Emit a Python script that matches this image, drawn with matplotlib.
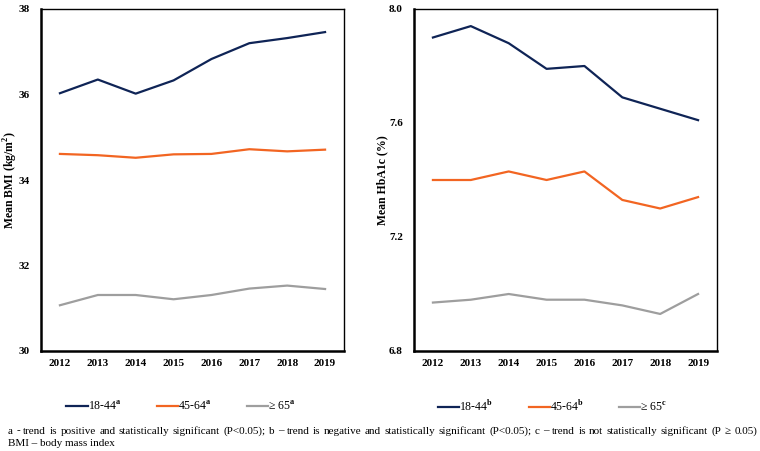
import matplotlib
matplotlib.use("Agg")
import matplotlib.pyplot as plt

years = ["2012", "2013", "2014", "2015", "2016", "2017", "2018", "2019"]
groups_bmi = ["18-44$^{\\mathbf{a}}$", "45-64$^{\\mathbf{a}}$", "≥ 65$^{\\mathbf{a}}$"]
groups_hba = ["18-44$^{\\mathbf{b}}$", "45-64$^{\\mathbf{b}}$", "≥ 65$^{\\mathbf{c}}$"]

bmi_18_44 = [36.03, 36.35, 36.02, 36.33, 36.83, 37.20, 37.32, 37.46]
bmi_45_64 = [34.61, 34.58, 34.52, 34.60, 34.61, 34.72, 34.67, 34.71]
bmi_65 = [31.07, 31.31, 31.31, 31.21, 31.31, 31.46, 31.53, 31.45]

hba_18_44 = [7.90, 7.94, 7.88, 7.79, 7.80, 7.69, 7.65, 7.61]
hba_45_64 = [7.40, 7.40, 7.43, 7.40, 7.43, 7.33, 7.30, 7.34]
hba_65 = [6.97, 6.98, 7.00, 6.98, 6.98, 6.96, 6.93, 7.00]

bmi_ticks = [30, 32, 34, 36, 38]
hba_ticks = [6.8, 7.2, 7.6, 8.0]

colors = ["#0F2456", "#F26522", "#9E9E9E"]

plt.rcParams["font.family"] = ["Liberation Serif", "DejaVu Serif"]
plt.rcParams["mathtext.fontset"] = "custom"
plt.rcParams["mathtext.rm"] = "Liberation Serif"
plt.rcParams["mathtext.bf"] = "Liberation Serif:bold"

fig = plt.figure(figsize=(7.6, 4.51), dpi=100)
ax1 = fig.add_axes([41 / 760, 1 - 351 / 451, 303 / 760, 342 / 451])
ax2 = fig.add_axes([414 / 760, 1 - 351 / 451, 303 / 760, 342 / 451])

x = list(range(len(years)))


def style(ax, ticks, ylim, ylabel, fmt, labx):
    ax.set_xlim(-0.5, len(years) - 0.5)
    ax.set_ylim(*ylim)
    ax.set_yticks(ticks)
    ax.set_yticklabels([fmt.format(t) for t in ticks], fontsize=8, fontweight="bold")
    ax.set_xticks(x)
    ax.set_xticklabels(years, fontsize=8, fontweight="bold")
    ax.tick_params(length=0, pad=6)
    ax.tick_params(axis="y", pad=8)
    for s in ["top", "right"]:
        ax.spines[s].set_linewidth(1.0)
    for s in ["left", "bottom"]:
        ax.spines[s].set_linewidth(1.8)
    ax.set_ylabel(ylabel, fontsize=8.5, fontweight="bold")
    ax.yaxis.set_label_coords(labx, 0.5)


series_bmi = [bmi_18_44, bmi_45_64, bmi_65]
series_hba = [hba_18_44, hba_45_64, hba_65]
h1 = [ax1.plot(x, s, color=c, lw=1.6)[0] for s, c in zip(series_bmi, colors)]
h2 = [ax2.plot(x, s, color=c, lw=1.6)[0] for s, c in zip(series_hba, colors)]

style(ax1, bmi_ticks, (30, 38), "Mean BMI (kg/m$^{\\mathbf{2}}$)", "{:.0f}", -0.07)
style(ax2, hba_ticks, (6.8, 8.0), "Mean HbA1c (%)", "{:.1f}", -0.085)

for handles, labels, cx in [(h1, groups_bmi, 0.238), (h2, groups_hba, 0.727)]:
    fig.legend(handles, labels, loc="center", bbox_to_anchor=(cx, 0.098), ncol=3,
               frameon=False, fontsize=8.5, handlelength=1.8, handletextpad=0.0,
               columnspacing=3.0)

# justified footnote
line1 = ("a - trend is positive  and statistically  significant  (P<0.05); b – trend is negative  "
         "and statistically  significant  (P<0.05); c – trend is not statistically  significant  (P ≥ 0.05)")
words = line1.split()
fs = 8
x0, x1 = 8 / 760, 757 / 760
y1 = 1 - 431 / 451
renderer = fig.canvas.get_renderer()
texts = [fig.text(0, y1, w, fontsize=fs, va="center", ha="left") for w in words]
widths = [t.get_window_extent(renderer).width / 760 for t in texts]
gap = ((x1 - x0) - sum(widths)) / (len(words) - 1)
pos = x0
for t, w in zip(texts, widths):
    t.set_x(pos)
    pos += w + gap

fig.text(x0, 1 - 444 / 451, "BMI – body mass index", fontsize=fs, va="center", ha="left")

fig.savefig("out.png", dpi=100)
